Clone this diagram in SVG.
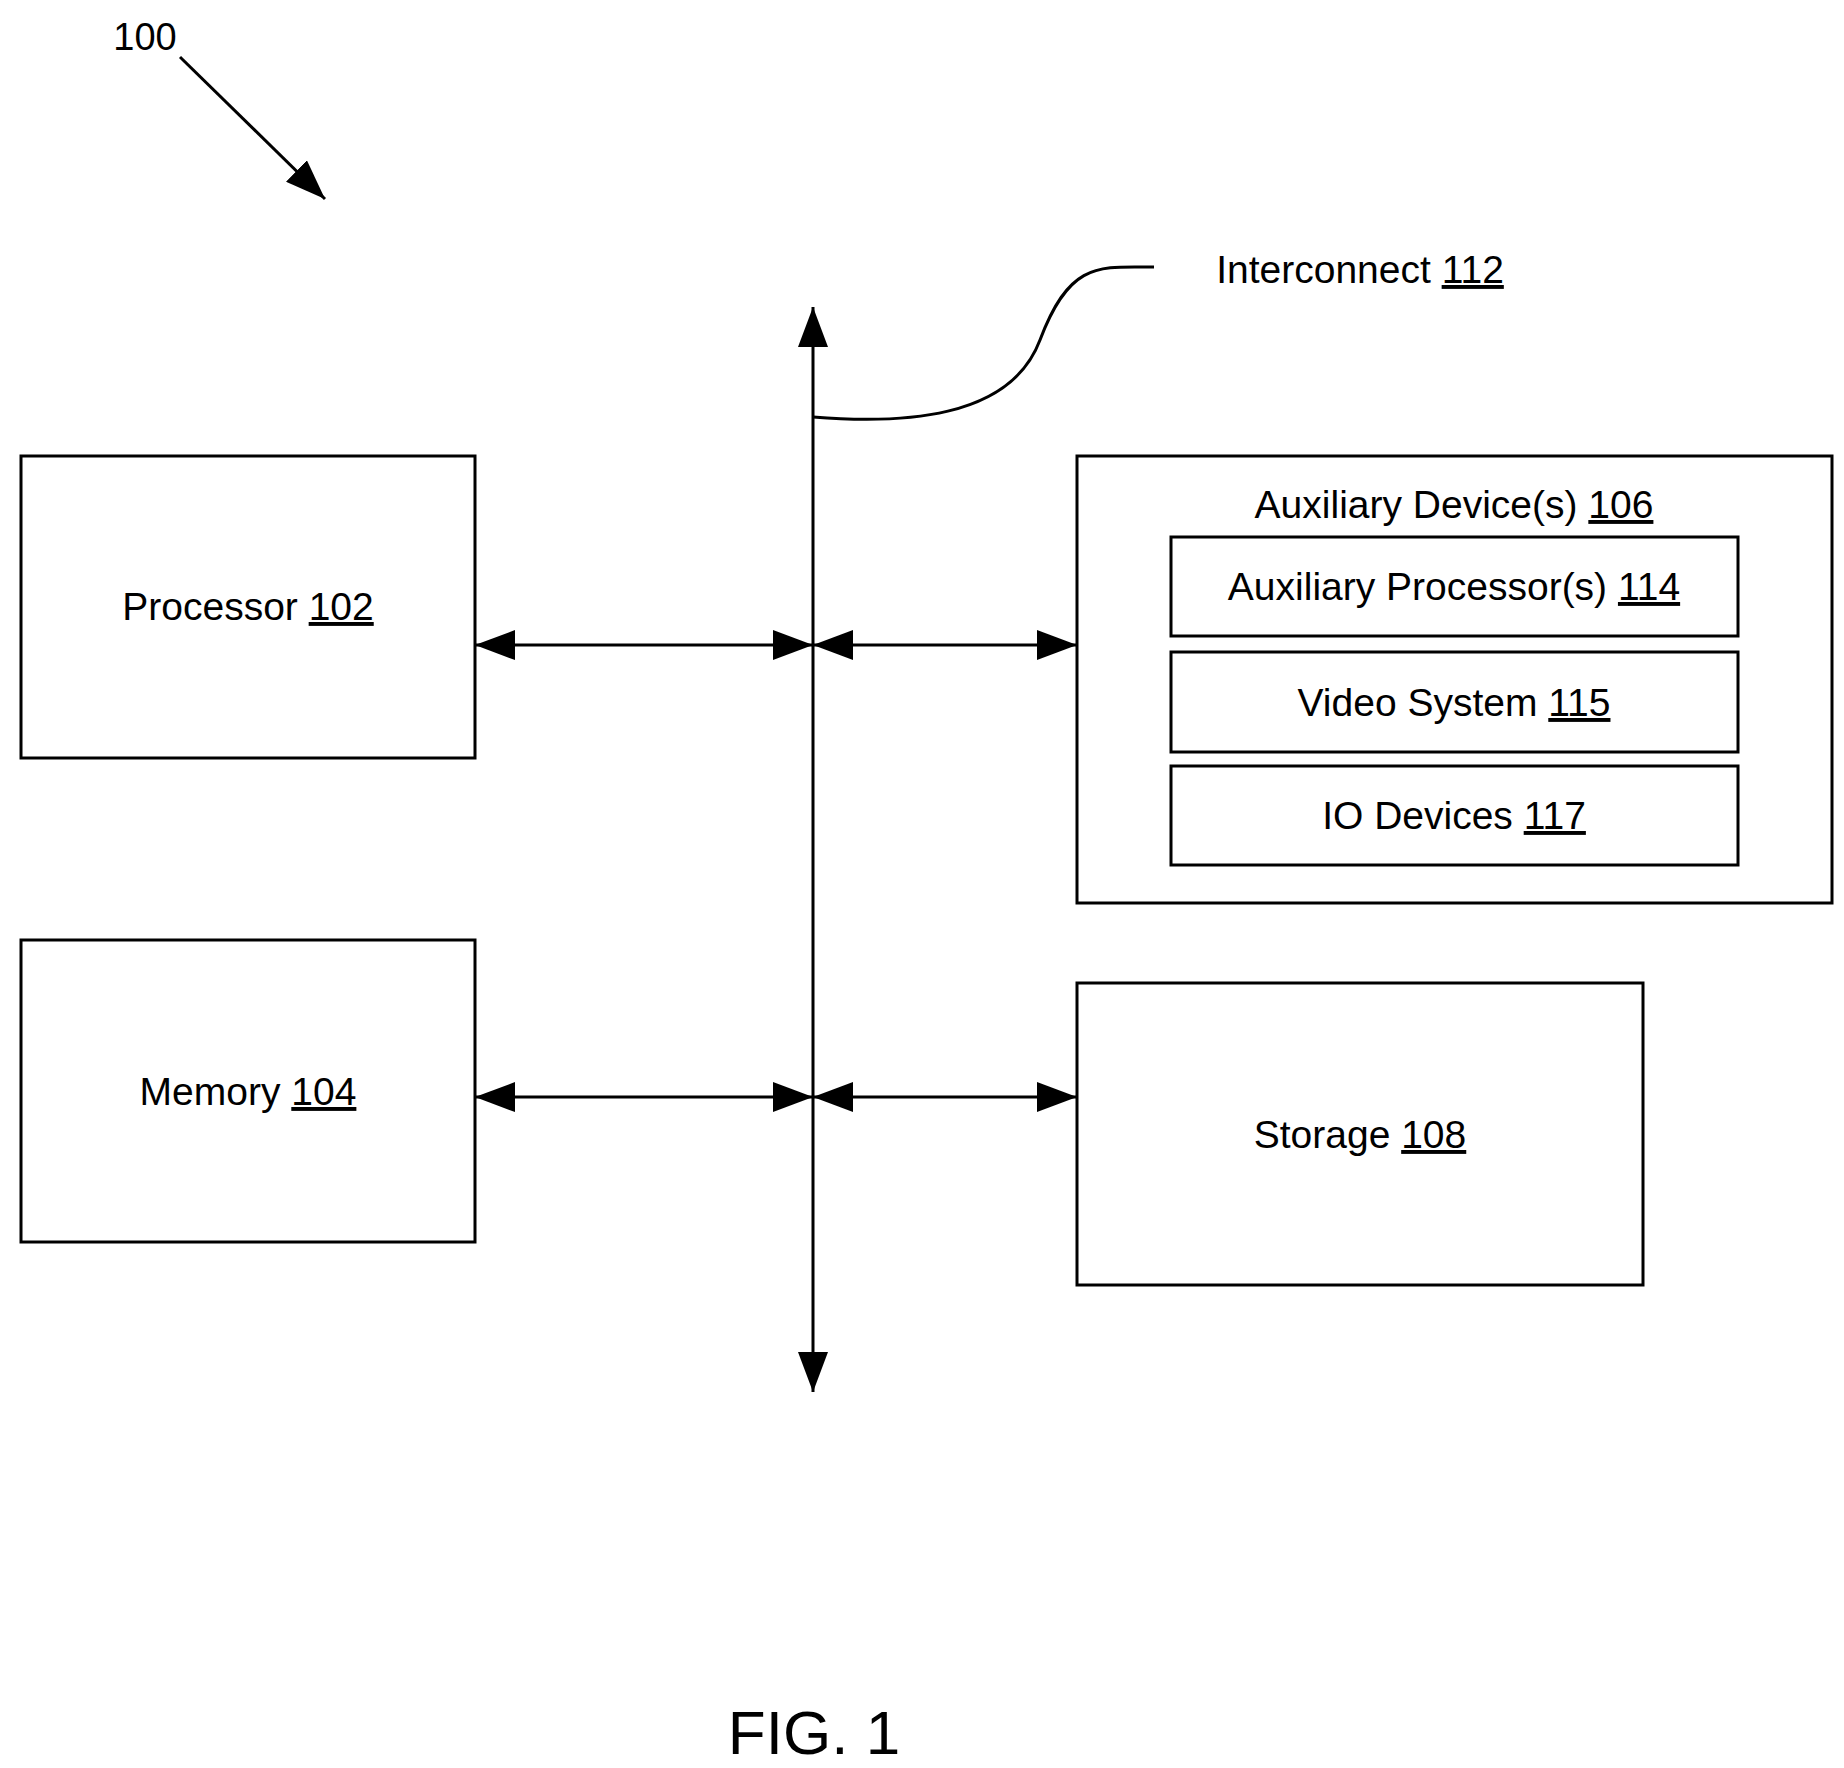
<svg xmlns="http://www.w3.org/2000/svg" width="1844" height="1768" viewBox="0 0 1844 1768">
<style>
.b{fill:none;stroke:#000;stroke-width:3}
.l{fill:none;stroke:#000;stroke-width:3}
text{font-family:"Liberation Sans",Arial,sans-serif;font-size:39px;fill:#000;text-anchor:middle}
.u{text-decoration:underline}
</style>
<defs>
<marker id="a" viewBox="0 0 10 10" refX="10" refY="5" markerWidth="13" markerHeight="13" markerUnits="userSpaceOnUse" orient="auto-start-reverse"><path d="M0,0 L10,5 L0,10 z" fill="#000"/></marker>
<marker id="h" viewBox="0 0 10 10" refX="10" refY="5" markerWidth="40" markerHeight="30" markerUnits="userSpaceOnUse" orient="auto-start-reverse" preserveAspectRatio="none"><path d="M0,0 L10,5 L0,10 z" fill="#000"/></marker>
</defs>
<g id="label100"><text x="145" y="50" style="font-size:38px">100</text></g>
<g id="proc"><rect class="b" x="21" y="456" width="454" height="302"/><text x="248" y="620">Processor <tspan class="u">102</tspan></text></g>
<g id="mem"><rect class="b" x="21" y="940" width="454" height="302"/><text x="248" y="1105">Memory <tspan class="u">104</tspan></text></g>
<g id="aux"><rect class="b" x="1077" y="456" width="755" height="447"/><text x="1454" y="518">Auxiliary Device(s) <tspan class="u">106</tspan></text></g>
<g id="ap"><rect class="b" x="1171" y="537" width="567" height="99"/><text x="1454" y="600">Auxiliary Processor(s) <tspan class="u">114</tspan></text></g>
<g id="vs"><rect class="b" x="1171" y="652" width="567" height="100"/><text x="1454" y="716">Video System <tspan class="u">115</tspan></text></g>
<g id="io"><rect class="b" x="1171" y="766" width="567" height="99"/><text x="1454" y="829">IO Devices <tspan class="u">117</tspan></text></g>
<g id="sto"><rect class="b" x="1077" y="983" width="566" height="302"/><text x="1360" y="1148">Storage <tspan class="u">108</tspan></text></g>
<g id="ic"><text x="1360" y="283">Interconnect <tspan class="u">112</tspan></text></g>
<g id="fig"><text x="814" y="1754" style="font-size:62px">FIG. 1</text></g>
<g id="connectors">
<line class="l" x1="180" y1="57" x2="325" y2="199" marker-end="url(#h)"/>
<line class="l" x1="813" y1="350" x2="813" y2="307" marker-end="url(#h)"/>
<line class="l" x1="813" y1="350" x2="813" y2="1392" marker-end="url(#h)"/>
<path class="l" d="M813,417 C900,424 1010,420 1040,340 C1070,260 1100,267 1154,267"/>
<line class="l" x1="475" y1="645" x2="813" y2="645" marker-start="url(#h)" marker-end="url(#h)"/>
<line class="l" x1="813" y1="645" x2="1077" y2="645" marker-start="url(#h)" marker-end="url(#h)"/>
<line class="l" x1="475" y1="1097" x2="813" y2="1097" marker-start="url(#h)" marker-end="url(#h)"/>
<line class="l" x1="813" y1="1097" x2="1077" y2="1097" marker-start="url(#h)" marker-end="url(#h)"/>
</g>
</svg>
